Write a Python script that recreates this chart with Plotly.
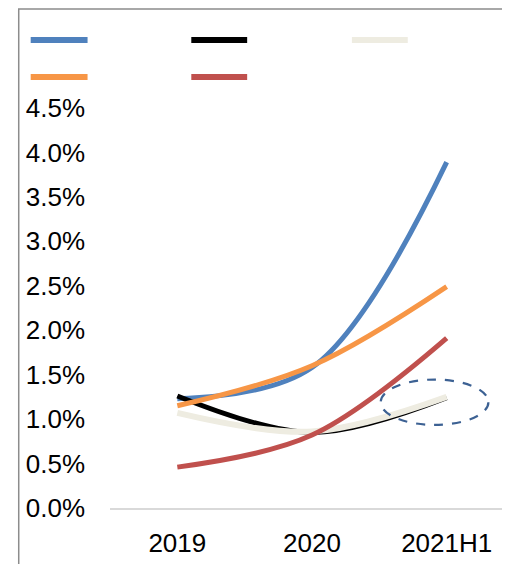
import plotly.graph_objects as go

categories = ["2019", "2020", "2021H1"]
blue = [1.23, 1.58, 3.89]
black = [1.26, 0.85, 1.24]
beige = [1.07, 0.86, 1.25]
orange = [1.15, 1.60, 2.49]
red = [0.46, 0.82, 1.91]
y_ticks = [0, 0.5, 1.0, 1.5, 2.0, 2.5, 3.0, 3.5, 4.0, 4.5]

OFF = 8  # page body margin
W, H = 510, 564
L, R, T, B = 109.5 - OFF, 3.5, 100 - OFF, 56 + OFF
PW, PH = W - L - R, H - T - B

def px(x):
    return (x - OFF - L) / PW

def py(y):
    return (H - B - (y - OFF)) / PH

series = [
    ("blue", blue, "#4f81bd", 5),
    ("black", black, "#000000", 5),
    ("beige", beige, "#eeece1", 6),
    ("orange", orange, "#f79646", 5),
    ("red", red, "#c0504d", 5),
]

fig = go.Figure()
for name, vals, color, w in series:
    fig.add_trace(go.Scatter(
        x=categories, y=vals, mode="lines", name=name,
        line=dict(color=color, width=w, shape="spline", smoothing=1),
        showlegend=False, hoverinfo="skip"))

shapes = []
# outer frame
shapes.append(dict(type="rect", xref="paper", yref="paper",
                   x0=px(18), x1=px(560), y0=py(620), y1=py(9),
                   line=dict(color="#8c8c8c", width=1.5), fillcolor="rgba(0,0,0,0)", layer="below"))
# legend swatches
legend_pos = [("#4f81bd", 30, 87, 40), ("#000000", 191, 247, 40), ("#eeece1", 352, 408, 40),
              ("#f79646", 30, 87, 77), ("#c0504d", 191, 247, 77)]
for c, xa, xb, yy in legend_pos:
    shapes.append(dict(type="line", xref="paper", yref="paper",
                       x0=px(xa), x1=px(xb), y0=py(yy), y1=py(yy),
                       line=dict(color=c, width=6)))
# dashed ellipse around last beige point
cx, cy = 2 - 0.09, beige[-1] - 0.06
shapes.append(dict(type="circle", xref="x", yref="y",
                   x0=cx - 0.40, x1=cx + 0.40, y0=cy - 0.255, y1=cy + 0.255,
                   line=dict(color="#3c6193", width=2.2, dash="dash")))

fig.update_layout(
    width=W, height=H,
    margin=dict(l=L, r=R, t=T, b=B, pad=0),
    paper_bgcolor="white", plot_bgcolor="white",
    font=dict(family="Liberation Sans, Arial", size=26, color="#000000"),
    shapes=shapes,
    xaxis=dict(type="category", range=[-0.5, -0.5 + PW / 135], showgrid=False,
               showline=True, linecolor="#d9d9d9", linewidth=1.5, ticks="",
               ticklabelstandoff=11, zeroline=False),
    yaxis=dict(range=[0, PH / 88.9], tickvals=y_ticks, ticktext=[f"{v:.1f}%" for v in y_ticks],
               showgrid=False, zeroline=False, showline=False, ticks="",
               ticklabelstandoff=24),
)

fig.write_html("out.html")
